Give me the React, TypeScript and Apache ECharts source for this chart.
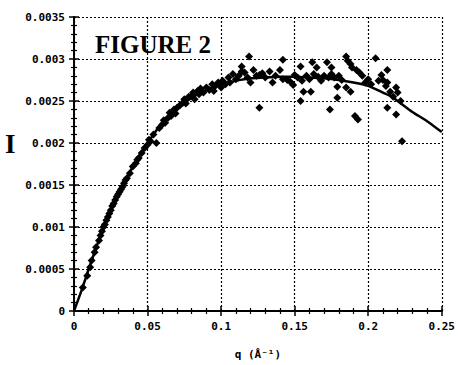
import React, { useEffect, useRef } from "react";
import * as echarts from "echarts";

const curveX = [0, 0.005, 0.01, 0.015, 0.02, 0.025, 0.03, 0.035, 0.04, 0.045, 0.05, 0.06, 0.07, 0.08, 0.09, 0.1, 0.11, 0.12, 0.13, 0.14, 0.15, 0.16, 0.17, 0.18, 0.19, 0.2, 0.21, 0.215, 0.22, 0.23, 0.24, 0.25];
const curveY = [0, 0.00024, 0.0005, 0.00075, 0.001, 0.0012, 0.0014, 0.00156, 0.00172, 0.00186, 0.002, 0.00224, 0.0024, 0.00254, 0.00263, 0.0027, 0.00274, 0.00277, 0.00278, 0.00279, 0.00279, 0.00278, 0.00277, 0.00275, 0.00272, 0.00268, 0.0026, 0.00256, 0.0025, 0.00237, 0.00226, 0.00213];

const pointsX = [
  0.006, 0.009, 0.011, 0.012, 0.014, 0.015, 0.017, 0.018, 0.019, 0.02, 0.021, 0.022, 0.023, 0.024, 0.025, 0.026, 0.027, 0.028, 0.029, 0.03,
  0.031, 0.032, 0.033, 0.034, 0.035, 0.036, 0.038, 0.04, 0.042, 0.043, 0.044, 0.046, 0.048, 0.05, 0.051, 0.052, 0.054, 0.056, 0.058, 0.06,
  0.061, 0.062, 0.064, 0.065, 0.066, 0.068, 0.069, 0.07, 0.072, 0.074, 0.075, 0.076, 0.078, 0.08, 0.081, 0.082, 0.084, 0.085, 0.086, 0.088,
  0.09, 0.092, 0.094, 0.095, 0.096, 0.098, 0.1, 0.101, 0.103, 0.105, 0.106, 0.108, 0.11, 0.112, 0.114, 0.114, 0.116, 0.118, 0.119, 0.12,
  0.122, 0.124, 0.126, 0.126, 0.128, 0.13, 0.133, 0.135, 0.137, 0.14, 0.142, 0.142, 0.145, 0.147, 0.149, 0.15, 0.152, 0.154, 0.154, 0.155,
  0.156, 0.158, 0.16, 0.161, 0.162, 0.163, 0.165, 0.166, 0.168, 0.17, 0.172, 0.173, 0.174, 0.175, 0.175, 0.177, 0.179, 0.179, 0.18, 0.182,
  0.185, 0.185, 0.186, 0.188, 0.188, 0.189, 0.191, 0.192, 0.193, 0.194, 0.196, 0.198, 0.2, 0.202, 0.205, 0.207, 0.209, 0.21, 0.212, 0.213,
  0.213, 0.213, 0.215, 0.217, 0.219, 0.219, 0.22, 0.222, 0.223
];
const pointsY = [
  0.28, 0.42, 0.52, 0.6, 0.7, 0.76, 0.84, 0.9, 0.95, 1.0, 1.03, 1.08, 1.12, 1.16, 1.2, 1.25, 1.28, 1.32, 1.36, 1.39,
  1.42, 1.45, 1.48, 1.52, 1.56, 1.58, 1.64, 1.72, 1.76, 1.8, 1.82, 1.88, 1.94, 1.98, 2.04, 2.02, 2.1, 2.0, 2.18, 2.22,
  2.27, 2.24, 2.3, 2.36, 2.32, 2.4, 2.35, 2.42, 2.45, 2.48, 2.52, 2.47, 2.55, 2.56, 2.6, 2.52, 2.62, 2.58, 2.65, 2.6,
  2.66, 2.63, 2.7, 2.62, 2.68, 2.72, 2.66, 2.74, 2.7, 2.78, 2.72, 2.82, 2.76, 2.8, 2.91, 2.85, 2.84, 2.78, 3.03, 2.72,
  2.87, 2.8, 2.81, 2.42, 2.83, 2.78, 2.85, 2.72, 2.8, 2.87, 2.76, 2.99, 2.75, 2.73, 2.69, 2.81, 2.78, 2.91, 2.5, 2.74,
  2.61, 2.8, 2.76, 2.61, 2.96, 2.82, 2.9, 2.79, 2.74, 2.8, 2.96, 2.78, 2.4, 2.9, 2.82, 2.78, 2.54, 2.67, 2.8, 2.75,
  3.03, 2.66, 2.98, 2.94, 2.61, 2.9, 2.32, 2.87, 2.28, 2.84, 2.8, 2.72, 2.76, 2.7, 3.01, 2.74, 2.81, 2.75, 2.68, 2.87,
  2.72, 2.42, 2.61, 2.55, 2.66, 2.34, 2.6, 2.5, 2.02
];

const xTickLabels = ["0", "0.05", "0.1", "0.15", "0.2", "0.25"];
const yTickLabels = ["0", "0.0005", "0.001", "0.0015", "0.002", "0.0025", "0.003", "0.0035"];

const X_STEP = 0.05;
const Y_STEP = 0.0005;

export default function App() {
  const ref = useRef<HTMLDivElement>(null);
  useEffect(() => {
    if (!ref.current) return;
    const chart = echarts.init(ref.current, null, { renderer: "svg" });
    const lineData = curveX.map((x, i) => [x, curveY[i]]);
    const scatterData = pointsX.map((x, i) => [x, pointsY[i] / 1000]);
    const labelFont = {
      fontFamily: "DejaVu Sans Mono",
      fontWeight: "bold" as const,
      fontSize: 11,
      color: "#000",
    };
    const axisLine = { show: true, lineStyle: { color: "#000", width: 2 } };
    const tick = { show: true, inside: true, length: 5, lineStyle: { color: "#000", width: 1.5 } };
    const minor = { show: true, splitNumber: 5, length: 3, lineStyle: { color: "#000", width: 1.2 } };
    const grid = { show: true, lineStyle: { color: "#000", type: [2, 2] as any, width: 1.2 } };
    chart.setOption({
      animation: false,
      backgroundColor: "#fff",
      grid: { left: 74, right: 16, top: 17, bottom: 52 },
      xAxis: [
        {
          type: "value",
          min: 0,
          max: 0.25,
          interval: X_STEP,
          axisLine,
          axisTick: tick,
          minorTick: minor,
          splitLine: grid,
          axisLabel: {
            ...labelFont,
            margin: 10,
            formatter: (v: number) => xTickLabels[Math.round(v / X_STEP)] ?? "",
          },
          name: "q (Å⁻¹)",
          nameLocation: "middle",
          nameGap: 38,
          nameTextStyle: { ...labelFont, fontSize: 11 },
        },
        {
          type: "value",
          position: "top",
          min: 0,
          max: 0.25,
          interval: X_STEP,
          axisLine,
          axisTick: tick,
          minorTick: minor,
          splitLine: { show: false },
          axisLabel: { show: false },
        },
      ],
      yAxis: [
        {
          type: "value",
          min: 0,
          max: 0.0035,
          interval: Y_STEP,
          axisLine,
          axisTick: tick,
          minorTick: minor,
          splitLine: grid,
          axisLabel: {
            ...labelFont,
            margin: 9,
            formatter: (v: number) => yTickLabels[Math.round(v / Y_STEP)] ?? "",
          },
        },
        {
          type: "value",
          position: "right",
          min: 0,
          max: 0.0035,
          interval: Y_STEP,
          axisLine,
          axisTick: tick,
          minorTick: minor,
          splitLine: { show: false },
          axisLabel: { show: false },
        },
      ],
      graphic: [
        {
          type: "text",
          left: 5,
          top: 130,
          style: {
            text: "I",
            fontFamily: "Liberation Serif",
            fontWeight: "bold",
            fontSize: 27,
            fill: "#000",
          },
        },
        {
          type: "text",
          left: 95,
          top: 32,
          z: 10,
          style: {
            text: "FIGURE 2",
            fontFamily: "Liberation Serif",
            fontWeight: "bold",
            fontSize: 25,
            fill: "#000",
          },
        },
      ],
      series: [
        {
          type: "line",
          data: lineData,
          showSymbol: false,
          symbol: "none",
          smooth: 0.3,
          lineStyle: { color: "#000", width: 2.5 },
          z: 3,
        },
        {
          type: "scatter",
          data: scatterData,
          symbol: "diamond",
          symbolSize: 8,
          itemStyle: { color: "#000", opacity: 1 },
          z: 4,
        },
      ],
    });
    return () => chart.dispose();
  }, []);
  return (
    <div
      ref={ref}
      style={{ position: "absolute", left: 0, top: 0, width: 458, height: 365 }}
    />
  );
}
